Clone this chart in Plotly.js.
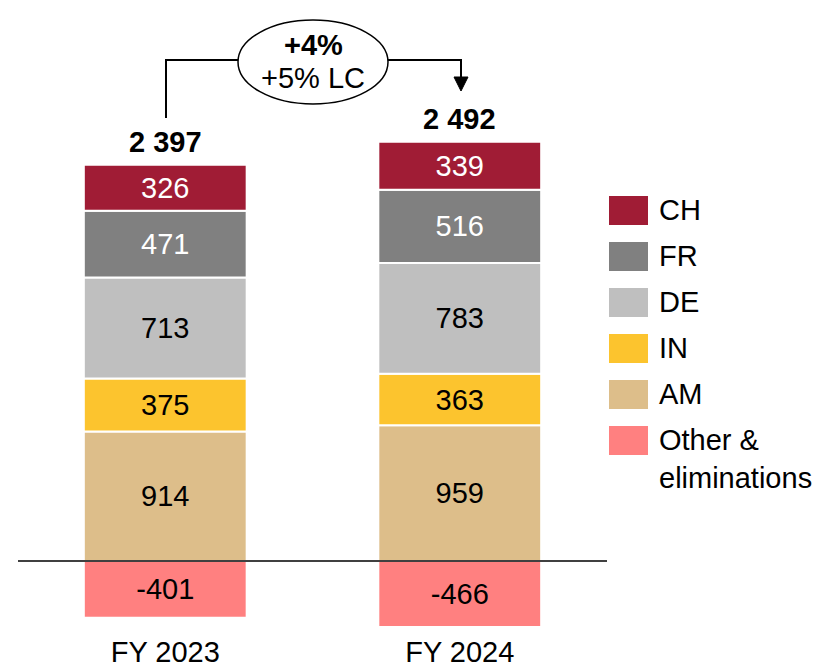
<!DOCTYPE html>
<html>
<head>
<meta charset="utf-8">
<script src="https://cdn.plot.ly/plotly-3.0.1.min.js"></script>
<style>html,body{margin:0;padding:0;background:#fff;}#chart{width:817px;height:667px;}</style>
</head>
<body>
<div id="chart"></div>
<script>
const categories = ["FY 2023", "FY 2024"];
const seriesNames = ["Other &<br>eliminations", "AM", "IN", "DE", "FR", "CH"];
const otherElim = [-401, -466];
const am = [914, 959];
const inn = [375, 363];
const de = [713, 783];
const fr = [471, 516];
const ch = [326, 339];
const totals = ["2 397", "2 492"];
const growthMain = "+4%";
const growthLC = "+5% LC";

const seriesValues = [otherElim, am, inn, de, fr, ch];
const colors = ["#FF8080", "#DDBE8A", "#FCC42E", "#BFBFBF", "#808080", "#A01C35"];
const textColors = ["#000", "#000", "#000", "#000", "#fff", "#fff"];
const FONT = "Liberation Sans, Arial, sans-serif";
const FS = 29;

const W = 817, H = 667;
const M = {l: 18, r: 210, t: 10, b: 35};
const yRange = [-501, 3891];
const xRange = [-0.5, 1.5];
const pw = W - M.l - M.r, ph = H - M.t - M.b;
// pixel helpers for decorations (not data marks)
const pxX = px => xRange[0] + (px - M.l) / pw * (xRange[1] - xRange[0]);
const pxY = py => yRange[1] - (py - M.t) / ph * (yRange[1] - yRange[0]);
const paperX = px => (px - M.l) / pw;
const paperY = py => 1 - (py - M.t) / ph;

const traces = seriesValues.map((vals, i) => ({
  type: "bar",
  x: categories,
  y: vals,
  name: seriesNames[i],
  marker: {color: colors[i], line: {color: "#fff", width: 2}},
  text: vals.map(v => String(v)),
  textposition: "inside",
  insidetextanchor: "middle",
  textangle: 0,
  constraintext: "none",
  textfont: {family: FONT, size: FS, color: textColors[i]},
  hoverinfo: "skip",
  showlegend: false
}));

const posTops = categories.map((c, j) => [am, inn, de, fr, ch].reduce((s, a) => s + a[j], 0));

const annotations = [];
const shapes = [];
// zero baseline drawn above bars
shapes.push({type: "line", xref: "paper", yref: "y", x0: 0, x1: 1, y0: 0, y1: 0,
  line: {color: "#000", width: 1.5}, layer: "above"});
categories.forEach((c, j) => {
  annotations.push({
    x: c, y: posTops[j], xref: "x", yref: "y",
    text: "<b>" + totals[j] + "</b>", showarrow: false,
    yanchor: "middle", yshift: 23,
    font: {family: FONT, size: FS, color: "#000"}
  });
});

// growth bubble connector
const lineY = pxY(60);
shapes.push({type: "path", xref: "x", yref: "y",
  path: `M ${pxX(166)} ${pxY(118)} L ${pxX(166)} ${lineY} L ${pxX(238)} ${lineY}`,
  line: {color: "#000", width: 2}});
shapes.push({type: "path", xref: "x", yref: "y",
  path: `M ${pxX(388)} ${lineY} L ${pxX(461)} ${lineY} L ${pxX(461)} ${pxY(80)}`,
  line: {color: "#000", width: 2}});
shapes.push({type: "path", xref: "x", yref: "y",
  path: `M ${pxX(454)} ${pxY(77)} L ${pxX(468)} ${pxY(77)} L ${pxX(461)} ${pxY(91)} Z`,
  fillcolor: "#000", line: {color: "#000", width: 1}});
shapes.push({type: "circle", xref: "x", yref: "y",
  x0: pxX(238), x1: pxX(388), y0: pxY(20), y1: pxY(104),
  line: {color: "#000", width: 1.5}, fillcolor: "#fff"});
annotations.push({x: pxX(313), y: pxY(45), xref: "x", yref: "y", showarrow: false,
  text: "<b>" + growthMain + "</b>", font: {family: FONT, size: FS, color: "#000"}});
annotations.push({x: pxX(313), y: pxY(78), xref: "x", yref: "y", showarrow: false,
  text: growthLC, font: {family: FONT, size: FS, color: "#000"}});

// custom legend (top to bottom: CH ... Other)
for (let k = 0; k < seriesNames.length; k++) {
  const i = seriesNames.length - 1 - k;
  const top = 196 + k * 46;
  shapes.push({type: "rect", xref: "paper", yref: "paper",
    x0: paperX(609), x1: paperX(648), y0: paperY(top + 29), y1: paperY(top),
    fillcolor: colors[i], line: {width: 0}});
  const multi = seriesNames[i].indexOf("<br>") >= 0;
  annotations.push({xref: "paper", yref: "paper", x: paperX(657),
    y: paperY(multi ? top + 33 : top + 14),
    xanchor: "left", yanchor: "middle", align: "left", showarrow: false,
    text: seriesNames[i], font: {family: FONT, size: FS, color: "#000"}});
}

const layout = {
  width: W, height: H,
  margin: M,
  paper_bgcolor: "#fff", plot_bgcolor: "#fff",
  barmode: "relative",
  bargap: 0.447,
  showlegend: false,
  font: {family: FONT, size: FS, color: "#000"},
  xaxis: {type: "category", range: xRange, showgrid: false, zeroline: false,
    showline: false, ticks: "", tickfont: {family: FONT, size: FS, color: "#000"}},
  yaxis: {range: yRange, showgrid: false, showticklabels: false, ticks: "",
    zeroline: false, showline: false},
  shapes: shapes,
  annotations: annotations
};

Plotly.newPlot("chart", traces, layout, {displayModeBar: false, staticPlot: true});
</script>
</body>
</html>
